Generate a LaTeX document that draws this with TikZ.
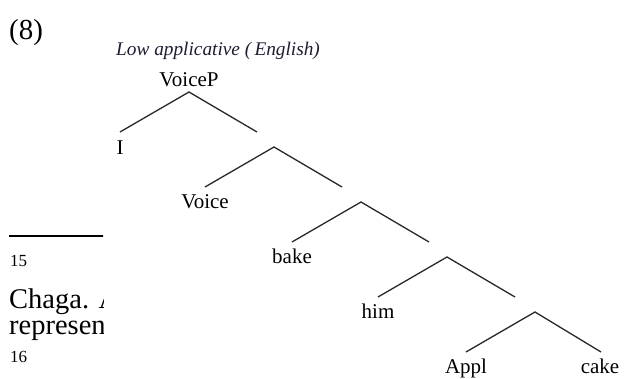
\documentclass[tikz,border=0pt]{standalone}
\usepackage{fontspec}
\setmainfont{Liberation Serif}
\definecolor{titlecol}{RGB}{28,28,50}
\definecolor{branchcol}{RGB}{40,40,40}
\begin{document}
\begin{tikzpicture}[x=1pt,y=-1pt,
  branch/.style={line width=1.3pt, draw=branchcol},
  lab/.style={anchor=base, inner sep=0pt, font=\fontsize{21}{21}\selectfont},
  body/.style={anchor=base west, inner sep=0pt, font=\fontsize{28.5}{28.5}\selectfont},
  foot/.style={anchor=base west, inner sep=0pt, font=\fontsize{17}{17}\selectfont}]
\useasboundingbox (0,0) rectangle (625,379);

\node[anchor=base west, inner sep=0pt, font=\fontsize{29}{29}\selectfont] (num) at (9,40) {(8)};

\begin{scope}
  \clip (0,200) rectangle (103,379);
  \coordinate (ruleL) at (9,236);
  \coordinate (ruleR) at (110,236);
  \draw[line width=2pt] (ruleL) -- (ruleR);
  \node[foot] (fnA) at (10,267) {15};
  \node[body] (chaga) at (9,309) {Chaga. A};
  \node[body] (repr) at (9,335) {represen};
  \node[foot] (fnB) at (10,363) {16};
\end{scope}

\node[anchor=base west, inner sep=0pt, text=titlecol,
  font=\fontsize{19.3}{19.3}\selectfont\itshape] (title) at (116,56) {Low applicative (\,English)};

% apexes and branch ends
\coordinate (a1) at (189,92);  \coordinate (l1) at (120,132); \coordinate (r1) at (257,132);
\coordinate (a2) at (274,147); \coordinate (l2) at (205,187); \coordinate (r2) at (342,187);
\coordinate (a3) at (361,202); \coordinate (l3) at (292,242); \coordinate (r3) at (429,242);
\coordinate (a4) at (447,257); \coordinate (l4) at (378,297); \coordinate (r4) at (515,297);
\coordinate (a5) at (535,312); \coordinate (l5) at (466,352); \coordinate (r5) at (601,352);

\node[lab] (voiceP) at (189,87) {VoiceP};
\node[lab] (iota) at (120,155) {I};
\node[lab] (voice) at (205,209) {Voice};
\node[lab] (bake) at (292,264) {bake};
\node[lab] (him) at (378,319) {him};
\node[lab] (appl) at (466,374) {Appl};
\node[lab] (cake) at (600,374) {cake};

\foreach \k in {1,...,5}{
  \draw[branch] (l\k) -- (a\k) -- (r\k);
}
\end{tikzpicture}
\end{document}
